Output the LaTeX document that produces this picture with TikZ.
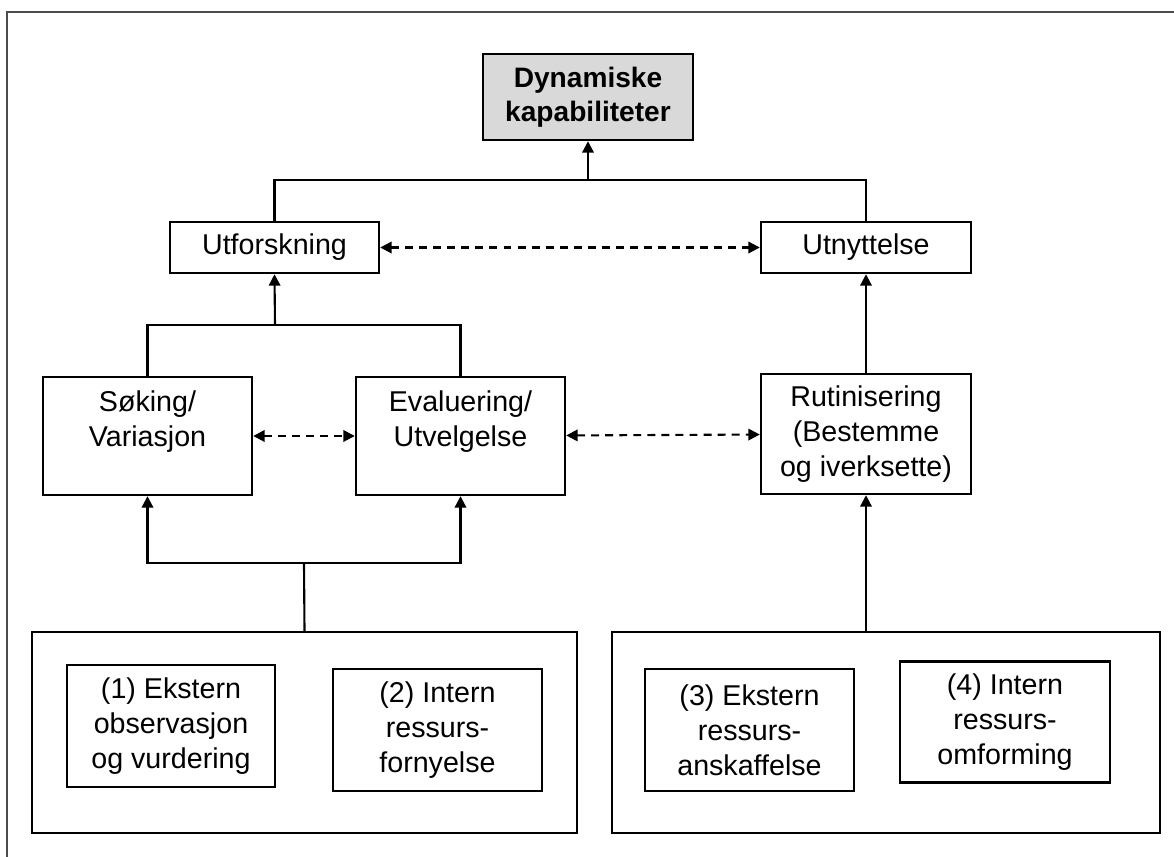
\documentclass[tikz,border=0pt]{standalone}
\usepackage{fontspec}
\setmainfont{Liberation Sans}
\usetikzlibrary{arrows.meta}

\begin{document}
\begin{tikzpicture}[x=0.02cm, y=-0.02cm, >={Triangle[length=6.5pt,width=6.5pt]},
    boks/.style={rectangle, draw=black, line width=1.4pt, align=center, inner sep=0pt, font=\fontsize{16.3}{20}\selectfont},
    gruppe/.style={rectangle, draw=black, line width=1.4pt, inner sep=0pt},
    linje/.style={line width=1.2pt},
    stiplet/.style={<->, line width=1.2pt, dash pattern=on 4.5pt off 3.5pt}]

        \clip (0,0) rectangle (1174,857);
        \fill[white] (0,0) rectangle (1174,857);
        \draw[line width=1.2pt, black!70] (7,12) rectangle (1200,900);

        \node[boks, fill=gray!30, minimum width=4.2cm, minimum height=1.72cm, font=\fontsize{16}{19.5}\selectfont\bfseries] (dyn) at (588,97) {Dynamiske\\kapabiliteter};

        \node[boks, minimum width=4.18cm, minimum height=1.02cm] (utf) at (274.5,247.5) {Utforskning};
        \node[boks, minimum width=4.2cm, minimum height=1.02cm] (utn) at (866,247.5) {Utnyttelse};

        \node[boks, minimum width=4.18cm, minimum height=2.36cm] (sok) at (147.5,436) {Søking/\\Variasjon\\\mbox{}};
        \node[boks, minimum width=4.18cm, minimum height=2.36cm] (eva) at (460.5,436) {Evaluering/\\Utvelgelse\\\mbox{}};
        \node[boks, minimum width=4.2cm, minimum height=2.4cm] (rut) at (866,434) {Rutinisering\\(Bestemme\\og iverksette)};

        \node[gruppe, minimum width=10.9cm, minimum height=4.02cm] (venstre) at (304.5,732.5) {};
        \node[gruppe, minimum width=10.96cm, minimum height=4.02cm] (hoyre) at (886,732.5) {};

        \node[boks, minimum width=4.16cm, minimum height=2.44cm] (b1) at (171,726) {(1) Ekstern\\observasjon\\og vurdering};
        \node[boks, minimum width=4.18cm, minimum height=2.44cm] (b2) at (437.5,730) {(2) Intern\\ressurs-\\fornyelse};
        \node[boks, minimum width=4.18cm, minimum height=2.44cm] (b3) at (749.5,730) {(3) Ekstern\\ressurs-\\anskaffelse};
        \node[boks, minimum width=4.2cm, minimum height=2.42cm] (b4) at (1005,722) {(4) Intern\\ressurs-\\omforming};

        \coordinate (topp) at (588,180);
        \coordinate (midt) at (275,325);
        \coordinate (bunn) at (304,563);

        \draw[linje] (utf.north) |- (topp) -| (utn.north);
        \draw[linje, ->] (topp) -- (dyn.south);

        \draw[linje] (sok.north) |- (midt) -| (eva.north);
        \draw[linje, ->] (midt) -- (utf.south);

        \draw[linje] (venstre.north) -- (bunn);
        \draw[linje, ->] (bunn) -| (sok.south);
        \draw[linje, ->] (bunn) -| (eva.south);

        \draw[linje, ->] (rut.south |- hoyre.north) -- (rut.south);
        \draw[linje, ->] (rut) -- (utn);

        \draw[stiplet] (utf) -- (utn);
        \draw[stiplet] (sok) -- (eva);
        \draw[stiplet] (eva) -- (rut);

    \end{tikzpicture}
\end{document}
